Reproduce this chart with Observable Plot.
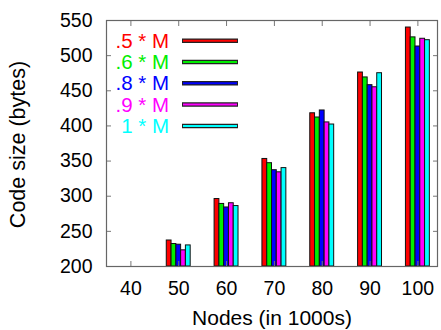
<!DOCTYPE html>
<html>
<head>
<meta charset="utf-8">
<script src="https://cdn.jsdelivr.net/npm/d3@7"></script>
<script src="https://cdn.jsdelivr.net/npm/@observablehq/plot@0.6"></script>
<style>
  body { margin: 0; background: #fff; }
  #wrap { position: relative; width: 441px; height: 330px; font-family: "Liberation Sans", Arial, sans-serif; }
  #legend { position: absolute; left: 0; top: 0; }
</style>
</head>
<body>
<div id="wrap"></div>
<script>
// ---- data ----
const nodes = [40, 50, 60, 70, 80, 90, 100];
const seriesNames = [".5 * M", ".6 * M", ".8 * M", ".9 * M", "1 * M"];
const seriesColors = ["#ff0000", "#00ee00", "#0000ff", "#ff00ff", "#00ffff"];
// code size (bytes) per node count (null = no bar)
const s05 = [null, 237, 296, 353, 418, 476, 540];
const s06 = [null, 232, 289, 347, 412, 469, 526];
const s08 = [null, 231, 284, 337, 422, 458, 513];
const s09 = [null, 223, 290, 334, 405, 455, 524];
const s10 = [null, 230, 286, 340, 402, 475, 522];
const yTicks = [200, 250, 300, 350, 400, 450, 500, 550];
const xLabel = "Nodes (in 1000s)";
const yLabel = "Code size (bytes)";

const allSeries = [s05, s06, s08, s09, s10];
const rows = [];
allSeries.forEach((vals, si) => {
  vals.forEach((v, ni) => {
    if (v != null) rows.push({node: nodes[ni], series: seriesNames[si], idx: si, value: v});
  });
});
const nS = seriesNames.length;

const chart = Plot.plot({
  width: 441,
  height: 330,
  marginLeft: 106,
  marginRight: 4,
  marginTop: 20,
  marginBottom: 64,
  style: {fontFamily: "'Liberation Sans', Arial, sans-serif", fontSize: "19px", color: "#000", background: "#fff"},
  x: {type: "linear", domain: [34.9, 104.1]},
  y: {domain: [200, 550]},
  color: {domain: seriesNames, range: seriesColors},
  marks: [
    Plot.rectY(rows, {
      x1: d => d.node - nS / 2 + d.idx,
      x2: d => d.node - nS / 2 + d.idx + 1,
      y1: 200,
      y2: "value",
      fill: "series",
      stroke: "#111",
      strokeWidth: 1
    }),
    // inward ticks
    Plot.axisX(nodes, {anchor: "bottom", tickSize: -5, tickFormat: () => "", stroke: "#777", label: null}),
    Plot.axisX(nodes, {anchor: "top", tickSize: -5, tickFormat: () => "", stroke: "#777", label: null}),
    Plot.axisY(yTicks, {anchor: "left", tickSize: -5, tickFormat: () => "", stroke: "#777", label: null}),
    Plot.axisY(yTicks, {anchor: "right", tickSize: -5, tickFormat: () => "", stroke: "#777", label: null}),
    // labels
    Plot.axisX(nodes, {anchor: "bottom", tickSize: 0, tickPadding: 15, label: null, fontSize: 19.5}),
    Plot.axisY(yTicks, {anchor: "left", tickSize: 0, tickPadding: 14, label: null, fontSize: 19.5}),
    Plot.frame({stroke: "#666", strokeWidth: 1.2}),
    Plot.text([xLabel], {text: d => d, frameAnchor: "bottom", lineAnchor: "middle", textAnchor: "middle", dy: 52, fontSize: 21}),
    Plot.text([yLabel], {text: d => d, frameAnchor: "left", lineAnchor: "middle", textAnchor: "middle", rotate: -90, dx: -88, dy: 1, fontSize: 21.5})
  ]
});

const wrap = document.getElementById("wrap");
wrap.appendChild(chart);

// legend overlay
const lg = d3.select(wrap).append("svg")
  .attr("id", "legend")
  .attr("width", 441).attr("height", 330)
  .style("font-family", "'Liberation Sans', Arial, sans-serif")
  .style("font-size", "20.5px");
const g = lg.selectAll("g").data(seriesNames).join("g")
  .attr("transform", (d, i) => `translate(0,${40.7 + i * 21.3})`);
g.append("text")
  .attr("x", 169).attr("dy", "0.35em")
  .attr("text-anchor", "end")
  .attr("fill", (d, i) => seriesColors[i])
  .text(d => d);
g.append("line").attr("x1", 182).attr("x2", 238).attr("stroke", "#222").attr("stroke-width", 4.5);
g.append("line").attr("x1", 183).attr("x2", 237).attr("stroke", (d, i) => seriesColors[i]).attr("stroke-width", 2);
</script>
</body>
</html>
